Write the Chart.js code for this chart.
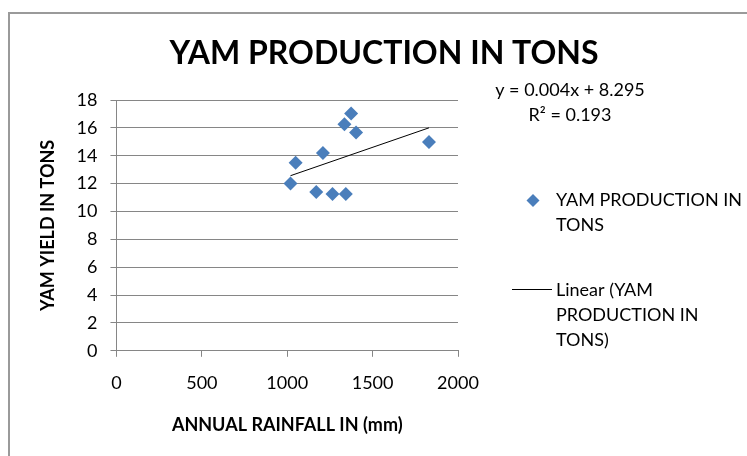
<!DOCTYPE html>
<html>
<head>
<meta charset="utf-8">
<script src="https://cdn.jsdelivr.net/npm/chart.js@4/dist/chart.umd.min.js"></script>
<style>
  html, body { margin: 0; padding: 0; background: #fff; overflow: hidden; }
  #wrap { position: relative; width: 747px; height: 456px; }
  #frame {
    position: absolute; left: 8px; top: 12px; width: 800px; height: 500px;
    border-top: 2px solid #9a9a9a; border-left: 2px solid #9a9a9a;
    pointer-events: none;
  }
  canvas { position: absolute; left: 0; top: 0; }
</style>
</head>
<body>
<div id="wrap">
  <canvas id="chart" width="747" height="456"></canvas>
  <div id="frame"></div>
</div>
<script>
// data
const rainfall = [1019, 1049, 1170, 1209, 1265, 1343, 1335, 1374, 1403, 1830];
const yamYield = [12.0, 13.5, 11.4, 14.2, 11.25, 11.25, 16.26, 17.03, 15.67, 14.99];
const xTicks = [0, 500, 1000, 1500, 2000];
const yTicks = [0, 2, 4, 6, 8, 10, 12, 14, 16, 18];
const chartTitle = "YAM PRODUCTION IN TONS";
const seriesName = ["YAM PRODUCTION IN", "TONS"];
const trendName = ["Linear (YAM", "PRODUCTION IN", "TONS)"];
const equationLines = ["y = 0.004x + 8.295", "R\u00b2 = 0.193"];

const FONT = "Lato, 'Open Sans', sans-serif";
const BLUE = "#4A7EBB";
const GRID = "#868686";

// least squares trendline through the points
function linearFit(xs, ys) {
  const n = xs.length;
  const mx = xs.reduce((a, b) => a + b, 0) / n;
  const my = ys.reduce((a, b) => a + b, 0) / n;
  let sxy = 0, sxx = 0;
  for (let i = 0; i < n; i++) {
    sxy += (xs[i] - mx) * (ys[i] - my);
    sxx += (xs[i] - mx) * (xs[i] - mx);
  }
  const slope = sxy / sxx;
  return { slope, intercept: my - slope * mx };
}

const fit = linearFit(rainfall, yamYield);
const xMin = Math.min(...rainfall);
const xMax = Math.max(...rainfall);
const trendPoints = [
  { x: xMin, y: fit.intercept + fit.slope * xMin },
  { x: xMax, y: fit.intercept + fit.slope * xMax },
];
const points = rainfall.map((x, i) => ({ x, y: yamYield[i] }));

// title, legend and equation, placed like the excel chart
// (the built-in title would center over the plot only)
const sideText = {
  id: "sideText",
  afterDraw(chart) {
    const ctx = chart.ctx;
    ctx.save();
    ctx.fillStyle = "#000";
    ctx.textBaseline = "middle";
    ctx.textAlign = "center";

    ctx.font = "bold 32px " + FONT;
    ctx.fillText(chartTitle, 384, 54);

    // equation
    ctx.font = "18px " + FONT;
    equationLines.forEach((t, i) => ctx.fillText(t, 570, 90 + i * 25));

    // series entry
    ctx.textAlign = "left";
    ctx.fillStyle = BLUE;
    ctx.beginPath();
    ctx.moveTo(533, 194);
    ctx.lineTo(539.5, 200.5);
    ctx.lineTo(533, 207);
    ctx.lineTo(526.5, 200.5);
    ctx.closePath();
    ctx.fill();
    ctx.fillStyle = "#000";
    seriesName.forEach((t, i) => ctx.fillText(t, 556, 200 + i * 25));

    // trendline entry
    ctx.strokeStyle = "#000";
    ctx.lineWidth = 1;
    ctx.beginPath();
    ctx.moveTo(512, 289.5);
    ctx.lineTo(552, 289.5);
    ctx.stroke();
    trendName.forEach((t, i) => ctx.fillText(t, 556, 290 + i * 25));
    ctx.restore();
  },
};

new Chart(document.getElementById("chart"), {
  type: "scatter",
  data: {
    datasets: [
      {
        label: seriesName.join(" "),
        data: points,
        pointStyle: "rectRot",
        pointRadius: 7,
        pointHoverRadius: 7,
        backgroundColor: BLUE,
        borderColor: BLUE,
        borderWidth: 0,
      },
      {
        label: trendName.join(" "),
        type: "line",
        data: trendPoints,
        showLine: true,
        borderColor: "#000",
        borderWidth: 1,
        pointRadius: 0,
        fill: false,
      },
    ],
  },
  options: {
    responsive: false,
    animation: false,
    layout: { padding: { left: 0, right: 289, top: 100, bottom: 0 } },
    plugins: {
      legend: { display: false },
      tooltip: { enabled: false },
      title: { display: false },
    },
    scales: {
      x: {
        type: "linear",
        min: 0,
        max: 2000,
        afterBuildTicks: (scale) => {
          scale.ticks = xTicks.map((v) => ({ value: v }));
        },
        ticks: {
          color: "#000",
          font: { family: FONT, size: 18 },
          padding: 16,
          maxRotation: 0,
          callback: (v) => String(v),
        },
        grid: { drawOnChartArea: false, color: GRID, tickLength: 6 },
        border: { color: GRID },
        title: {
          display: true,
          text: "ANNUAL RAINFALL IN (mm)",
          color: "#000",
          font: { family: FONT, size: 18, weight: "bold" },
          padding: { top: 4, bottom: 20 },
        },
      },
      y: {
        min: 0,
        max: 18,
        afterBuildTicks: (scale) => {
          scale.ticks = yTicks.map((v) => ({ value: v }));
        },
        ticks: {
          color: "#000",
          font: { family: FONT, size: 18 },
          padding: 13,
          callback: (v) => String(v),
        },
        grid: { color: GRID, tickLength: 6 },
        border: { color: GRID },
        title: {
          display: true,
          text: "YAM YIELD IN TONS",
          color: "#000",
          font: { family: FONT, size: 18, weight: "bold" },
          padding: { top: 37, bottom: 5 },
        },
      },
    },
  },
  plugins: [sideText],
});
</script>
</body>
</html>
